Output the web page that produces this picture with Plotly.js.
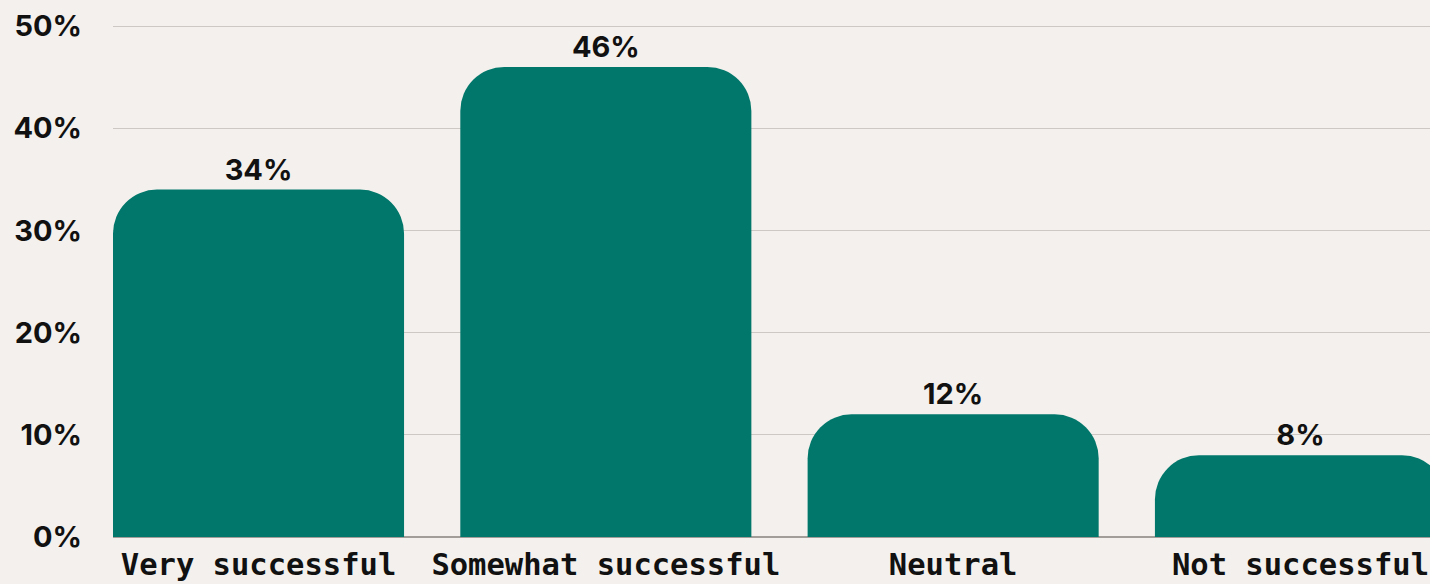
<!DOCTYPE html>
<html>
<head>
<meta charset="utf-8">
<script src="https://cdn.plot.ly/plotly-3.0.1.min.js"></script>
<style>
html,body{margin:0;padding:0;background:#f3f0ed;}
#chart{width:1430px;height:584px;}
</style>
</head>
<body>
<div id="chart"></div>
<script>
const categories = ["Very successful", "Somewhat successful", "Neutral", "Not successful"];
const values = [34, 46, 12, 8];
const valueLabels = ["34%", "46%", "12%", "8%"];
const yTickVals = [0, 10, 20, 30, 40, 50];
const yTickText = ["0%", "10%", "20%", "30%", "40%", "50%"];

const trace = {
  type: "bar",
  x: categories,
  y: values,
  text: valueLabels,
  textposition: "outside",
  cliponaxis: false,
  textfont: {family: "Inter, 'Noto Sans', sans-serif", size: 29, color: "#111111", weight: 700},
  marker: {color: "#00776a", cornerradius: 44, line: {width: 0}},
  hoverinfo: "none"
};

const layout = {
  width: 1430,
  height: 584,
  margin: {l: 113, r: 0, t: 25, b: 47},
  paper_bgcolor: "#f3f0ed",
  plot_bgcolor: "#f3f0ed",
  bargap: 0.162,
  showlegend: false,
  xaxis: {
    type: "category",
    range: [-0.419, 3.373],
    showgrid: false,
    zeroline: false,
    showline: false,
    ticks: "",
    tickfont: {family: "'DejaVu Sans Mono', monospace", size: 30.5, color: "#111111", weight: 700},
    ticklabelstandoff: 6,
    fixedrange: true
  },
  yaxis: {
    range: [0, 50.1],
    tickvals: yTickVals,
    ticktext: yTickText,
    showgrid: true,
    gridcolor: "#cdc8c4",
    gridwidth: 1,
    zeroline: true,
    zerolinecolor: "#a39d99",
    zerolinewidth: 1.5,
    showline: false,
    ticks: "",
    ticklabelstandoff: 30,
    tickfont: {family: "Inter, 'Noto Sans', sans-serif", size: 29, color: "#111111", weight: 700},
    fixedrange: true
  }
};

Plotly.newPlot("chart", [trace], layout, {displayModeBar: false, staticPlot: true});
</script>
</body>
</html>
